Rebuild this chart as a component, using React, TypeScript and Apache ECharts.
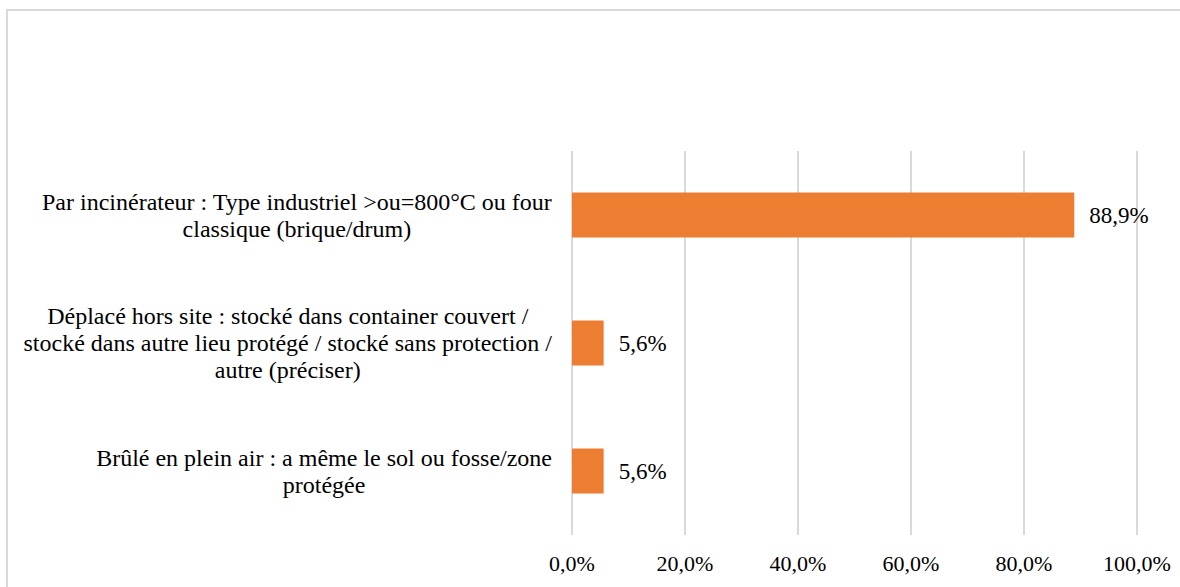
import React, { useEffect, useRef } from "react";
import * as echarts from "echarts";

const categories: string[] = [
  "Brûlé en plein air : a même le sol ou fosse/zone\nprotégée",
  "Déplacé hors site : stocké dans container couvert /\nstocké dans autre lieu protégé / stocké sans protection /\nautre (préciser)",
  "Par incinérateur : Type industriel >ou=800°C ou four\nclassique (brique/drum)",
];
const values: number[] = [5.6, 5.6, 88.9];
const tickValues: number[] = [0, 20, 40, 60, 80, 100];

const FONT = "Liberation Serif";
const fmt = (v: number) => v.toFixed(1).replace(".", ",") + "%";

export default function App() {
  const ref = useRef<HTMLDivElement>(null);
  useEffect(() => {
    if (!ref.current) return;
    const chart = echarts.init(ref.current, undefined, { renderer: "svg" });
    chart.setOption({
      animation: false,
      backgroundColor: "#ffffff",
      textStyle: { fontFamily: FONT },
      graphic: [
        {
          type: "rect",
          shape: { x: 7, y: 10, width: 1200, height: 620 },
          style: { fill: "none", stroke: "#d9d9d9", lineWidth: 2 },
          silent: true,
        },
      ],
      grid: { left: 572, right: 43, top: 151, bottom: 52, containLabel: false },
      xAxis: {
        type: "value",
        min: tickValues[0],
        max: tickValues[tickValues.length - 1],
        interval: 20,
        axisLine: { show: false },
        axisTick: { show: false },
        splitLine: { show: true, lineStyle: { color: "#d9d9d9", width: 2 } },
        axisLabel: {
          formatter: (v: number) => fmt(v),
          fontFamily: FONT,
          fontSize: 22,
          color: "#000",
          margin: 17,
        },
      },
      yAxis: {
        type: "category",
        data: categories,
        axisLine: { show: false },
        axisTick: { show: false },
        splitLine: { show: false },
        axisLabel: {
          margin: 20,
          align: "right",
          fontFamily: FONT,
          fontSize: 24,
          formatter: (v: string) =>
            v
              .split("\n")
              .map((l) => `{a|${l}}`)
              .join("\n"),
          rich: {
            a: {
              align: "center",
              fontFamily: FONT,
              fontSize: 24,
              lineHeight: 27,
              color: "#000",
            },
          },
        },
      },
      series: [
        {
          type: "bar",
          data: values,
          barWidth: 45,
          itemStyle: { color: "#ED7D31" },
          label: {
            show: true,
            position: "right",
            distance: 15,
            formatter: (p: any) => fmt(p.value),
            fontFamily: FONT,
            fontSize: 23,
            color: "#000",
          },
        },
      ],
    });
    return () => chart.dispose();
  }, []);
  return (
    <div
      ref={ref}
      style={{ position: "fixed", left: 0, top: 0, width: 1180, height: 587 }}
    />
  );
}
